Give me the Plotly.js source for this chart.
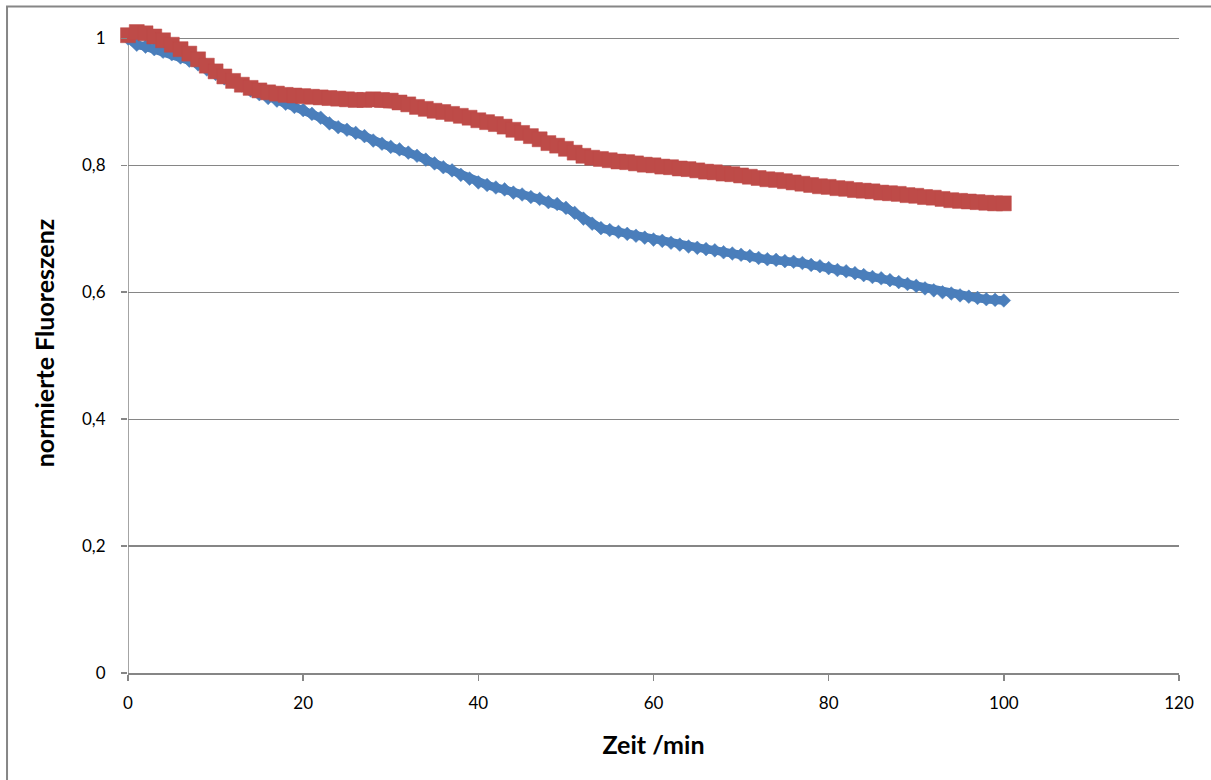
<!DOCTYPE html>
<html>
<head>
<meta charset="utf-8">
<script src="https://cdn.plot.ly/plotly-3.0.1.min.js"></script>
<style>
html,body{margin:0;padding:0;background:#fff;}
#chart{width:1211px;height:780px;}
</style>
</head>
<body>
<div id="chart"></div>
<script>
// Zeit in Minuten
const zeit = [0,1,2,3,4,5,6,7,8,9,10,11,12,13,14,15,16,17,18,19,20,21,22,23,24,25,26,27,28,29,30,31,32,33,34,35,36,37,38,39,40,41,42,43,44,45,46,47,48,49,50,51,52,53,54,55,56,57,58,59,60,61,62,63,64,65,66,67,68,69,70,71,72,73,74,75,76,77,78,79,80,81,82,83,84,85,86,87,88,89,90,91,92,93,94,95,96,97,98,99,100];

// Serie 1 (blau, Rauten)
const serieBlau = [1.000,0.990,0.987,0.983,0.979,0.975,0.970,0.965,0.959,0.951,0.944,0.937,0.932,0.926,0.918,0.912,0.906,0.902,0.897,0.892,0.887,0.881,0.875,0.866,0.860,0.856,0.851,0.846,0.839,0.834,0.829,0.825,0.820,0.815,0.809,0.803,0.797,0.792,0.785,0.779,0.773,0.769,0.765,0.762,0.757,0.754,0.750,0.747,0.742,0.739,0.733,0.725,0.716,0.708,0.701,0.698,0.695,0.692,0.689,0.686,0.683,0.681,0.678,0.675,0.672,0.670,0.668,0.666,0.663,0.661,0.659,0.657,0.654,0.652,0.651,0.649,0.648,0.646,0.643,0.641,0.638,0.635,0.633,0.630,0.627,0.624,0.622,0.619,0.616,0.613,0.610,0.606,0.603,0.600,0.598,0.595,0.593,0.591,0.589,0.588,0.587];

// Serie 2 (rot, Quadrate)
const serieRot = [1.005,1.010,1.008,1.003,0.997,0.990,0.983,0.976,0.967,0.957,0.948,0.940,0.933,0.927,0.922,0.918,0.915,0.913,0.911,0.910,0.909,0.908,0.907,0.906,0.905,0.904,0.903,0.903,0.904,0.903,0.902,0.899,0.896,0.892,0.889,0.886,0.884,0.881,0.878,0.875,0.871,0.868,0.865,0.861,0.856,0.851,0.846,0.841,0.835,0.831,0.826,0.820,0.815,0.812,0.810,0.808,0.806,0.805,0.803,0.801,0.800,0.798,0.797,0.795,0.794,0.792,0.790,0.789,0.787,0.786,0.784,0.782,0.780,0.778,0.777,0.775,0.773,0.771,0.769,0.767,0.766,0.764,0.763,0.761,0.760,0.759,0.757,0.756,0.755,0.753,0.752,0.750,0.749,0.747,0.745,0.744,0.743,0.742,0.741,0.740,0.740];

const xTicks = [0,20,40,60,80,100,120];
const yTicks = [0,0.2,0.4,0.6,0.8,1];
const yTickText = ['0','0,2','0,4','0,6','0,8','1'];

const FONT = 'Lato, "Open Sans", sans-serif';
const AXIS_GRAY = '#868686';

const traces = [
  {
    x: zeit, y: serieBlau, type: 'scatter', mode: 'lines+markers', name: 'blau',
    line: {color: '#4A7EBB', width: 8.5},
    marker: {symbol: 'diamond', size: 10.5, color: '#4A7EBB', line: {color: '#4A7EBB', width: 0.5}},
    cliponaxis: false
  },
  {
    x: zeit, y: serieRot, type: 'scatter', mode: 'lines+markers', name: 'rot',
    line: {color: '#BE4B48', width: 11},
    marker: {symbol: 'square', size: 15, color: '#BE4B48', line: {color: '#BE4B48', width: 0.5}},
    cliponaxis: false
  }
];

// y range extended a little above 1 so the top markers stay visible; y=1 stays at the same pixel
const yTop = 1.04;
const plotH = 635; // pixels for 0..1
const layout = {
  width: 1211, height: 780,
  margin: {l: 128, r: 32, t: 38 - plotH * (yTop - 1), b: 107},
  paper_bgcolor: '#ffffff', plot_bgcolor: '#ffffff',
  showlegend: false,
  separators: ', ',
  font: {family: FONT, color: '#000000', size: 17},
  xaxis: {
    range: [0, 120], tickvals: xTicks, ticktext: xTicks.map(String),
    showgrid: false, zeroline: false,
    showline: true, linecolor: AXIS_GRAY, linewidth: 1.5,
    ticks: 'outside', ticklen: 6, tickcolor: AXIS_GRAY, tickwidth: 1.5,
    ticklabelstandoff: 8,
    tickfont: {family: FONT, size: 17, color: '#000'},
    title: {text: 'Zeit /min', font: {family: FONT, size: 25, color: '#000', weight: 'bold'}, standoff: 24},
    fixedrange: true
  },
  yaxis: {
    range: [0, yTop], tickvals: yTicks, ticktext: yTickText,
    showgrid: true, gridcolor: AXIS_GRAY, gridwidth: 1.2,
    zeroline: false,
    showline: false,
    ticks: 'outside', ticklen: 6, tickcolor: AXIS_GRAY, tickwidth: 1.5,
    ticklabelstandoff: 12,
    tickfont: {family: FONT, size: 17, color: '#000'},
    title: {text: 'normierte Fluoreszenz', font: {family: FONT, size: 25, color: '#000', weight: 'bold'}, standoff: 20},
    fixedrange: true
  },
  shapes: [
    // outer chart-area border
    {type: 'rect', xref: 'paper', yref: 'paper', x0: -0.1151, x1: 1.2, y0: -0.3, y1: (673 - 6) / (plotH * yTop),
     line: {color: AXIS_GRAY, width: 2}, fillcolor: 'rgba(0,0,0,0)', layer: 'below'},
    // vertical axis line from 0 to 1
    {type: 'line', xref: 'x', yref: 'y', x0: 0, x1: 0, y0: 0, y1: 1,
     line: {color: AXIS_GRAY, width: 1.5}, layer: 'below'}
  ]
};

Plotly.newPlot('chart', traces, layout, {displayModeBar: false, staticPlot: true});
</script>
</body>
</html>
